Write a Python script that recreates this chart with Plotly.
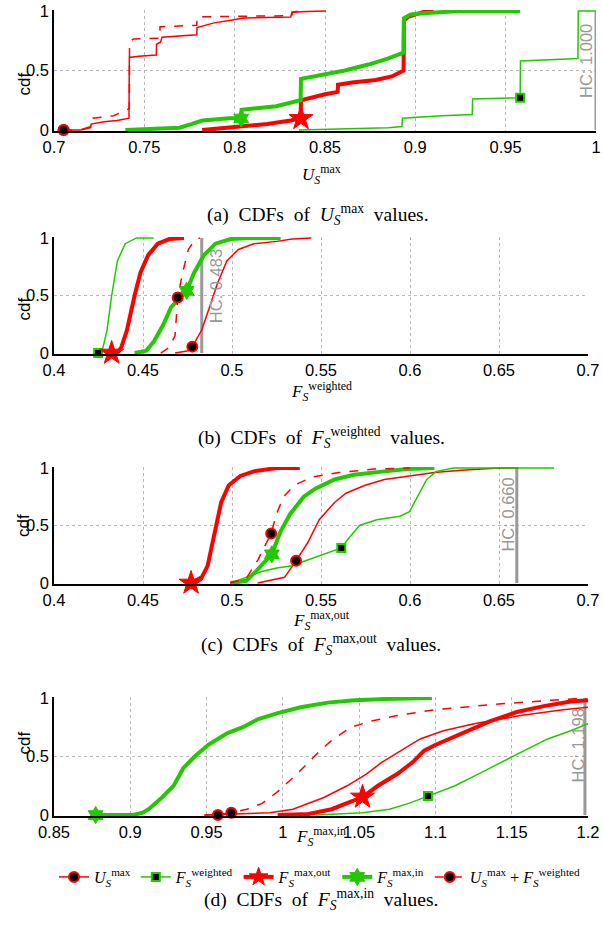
import plotly.graph_objects as go

RED = "#ff0000"
GREEN = "#22c800"
GRAY = "#999999"

# ---------------- Panel (a): U_S^max ----------------
a_umax_x = [0.7053, 0.715, 0.7203, 0.7205, 0.7277, 0.735, 0.7415, 0.7417, 0.747, 0.7566, 0.7568, 0.759, 0.7598, 0.770, 0.7790, 0.7792, 0.7886, 0.797, 0.805, 0.831, 0.8317, 0.840, 0.8505]
a_umax_y = [0.0, 0.0, 0.02, 0.05, 0.07, 0.08, 0.10, 0.61, 0.62, 0.63, 0.72, 0.74, 0.78, 0.79, 0.80, 0.86, 0.90, 0.92, 0.94, 0.95, 0.99, 0.995, 1.0]
a_uf_x = [0.7053, 0.714, 0.7203, 0.7215, 0.733, 0.7405, 0.7417, 0.7418, 0.744, 0.7585, 0.7587, 0.779, 0.7792, 0.80, 0.8317, 0.8319, 0.836]
a_uf_y = [0.0, 0.0, 0.03, 0.10, 0.12, 0.175, 0.18, 0.74, 0.765, 0.77, 0.867, 0.88, 0.95, 0.955, 0.96, 0.99, 1.0]
a_fout_x = [0.782, 0.790, 0.808, 0.818, 0.831, 0.8365, 0.8367, 0.844, 0.850, 0.857, 0.8572, 0.865, 0.878, 0.887, 0.8935, 0.8937, 0.896, 0.904, 0.91]
a_fout_y = [0.0, 0.01, 0.03, 0.05, 0.08, 0.10, 0.25, 0.28, 0.30, 0.32, 0.38, 0.40, 0.42, 0.45, 0.50, 0.92, 0.95, 0.99, 1.0]
a_fin_x = [0.7395, 0.760, 0.7694, 0.776, 0.782, 0.797, 0.8036, 0.8038, 0.823, 0.8365, 0.8367, 0.861, 0.874, 0.8847, 0.8935, 0.8937, 0.8975, 0.904, 0.9146, 0.925, 0.958]
a_fin_y = [0.0, 0.01, 0.02, 0.05, 0.08, 0.10, 0.10, 0.17, 0.20, 0.25, 0.43, 0.50, 0.55, 0.60, 0.65, 0.94, 0.97, 0.98, 0.99, 1.0, 1.0]
a_fw_x = [0.8356, 0.861, 0.885, 0.8926, 0.8928, 0.9146, 0.9315, 0.9317, 0.958, 0.9582, 0.990, 0.9902, 1.0]
a_fw_y = [0.0, 0.01, 0.02, 0.03, 0.10, 0.12, 0.13, 0.26, 0.272, 0.58, 0.60, 1.0, 1.0]
a_mark = {"umax": (0.7053, 0.0), "uf": (0.7053, 0.0), "fout": (0.8367, 0.097),
          "fin": (0.8036, 0.097), "fw": (0.958, 0.272)}
a_hc = 1.000

# ---------------- Panel (b): F_S^weighted ----------------
b_umax_x = [0.468, 0.4755, 0.4777, 0.483, 0.4874, 0.4917, 0.4971, 0.5036, 0.5122, 0.5252, 0.5338, 0.5446]
b_umax_y = [0.0, 0.02, 0.056, 0.2, 0.4, 0.6, 0.8, 0.9, 0.95, 0.97, 0.99, 1.0]
b_uf_x = [0.460, 0.4648, 0.468, 0.4695, 0.4723, 0.4755, 0.479, 0.482]
b_uf_y = [0.0, 0.05, 0.15, 0.48, 0.7, 0.9, 0.98, 1.0]
b_fout_x = [0.4324, 0.4356, 0.4378, 0.441, 0.4453, 0.4486, 0.4529, 0.4583, 0.4648, 0.473]
b_fout_y = [0.0, 0.0, 0.05, 0.2, 0.5, 0.7, 0.85, 0.95, 0.99, 1.0]
b_fin_x = [0.4453, 0.4518, 0.4561, 0.4615, 0.4658, 0.4745, 0.4788, 0.4842, 0.4907, 0.4993, 0.51, 0.5273]
b_fin_y = [0.0, 0.02, 0.1, 0.25, 0.4, 0.54, 0.7, 0.85, 0.95, 0.99, 1.0, 1.0]
b_fw_x = [0.4248, 0.427, 0.428, 0.4298, 0.4324, 0.4356, 0.44, 0.4464, 0.456]
b_fw_y = [0.0, 0.02, 0.08, 0.2, 0.5, 0.8, 0.95, 1.0, 1.0]
b_mark = {"umax": (0.4777, 0.056), "uf": (0.4695, 0.482), "fout": (0.4324, 0.0),
          "fin": (0.4745, 0.54), "fw": (0.4248, 0.0)}
b_hc = 0.483

# ---------------- Panel (c): F_S^max,out ----------------
c_umax_x = [0.5144, 0.5295, 0.536, 0.5425, 0.549, 0.5576, 0.564, 0.5748, 0.5856, 0.5986, 0.6137, 0.6288, 0.65, 0.661]
c_umax_y = [0.0, 0.05, 0.193, 0.35, 0.55, 0.7, 0.78, 0.85, 0.9, 0.93, 0.96, 0.98, 1.0, 1.0]
c_uf_x = [0.499, 0.508, 0.5145, 0.522, 0.525, 0.529, 0.535, 0.545, 0.56, 0.58, 0.60]
c_uf_y = [0.0, 0.04, 0.2, 0.431, 0.6, 0.75, 0.85, 0.92, 0.96, 0.99, 1.0]
c_fout_x = [0.477, 0.483, 0.4863, 0.4885, 0.4911, 0.4939, 0.4982, 0.5047, 0.5122, 0.5252, 0.5381]
c_fout_y = [0.0, 0.05, 0.15, 0.3, 0.5, 0.7, 0.85, 0.93, 0.97, 1.0, 1.0]
c_fin_x = [0.499, 0.508, 0.5133, 0.5224, 0.5273, 0.5327, 0.5403, 0.5468, 0.5576, 0.5684, 0.5856, 0.5986, 0.6137]
c_fin_y = [0.0, 0.02, 0.1, 0.25, 0.45, 0.6, 0.75, 0.82, 0.9, 0.94, 0.97, 0.99, 1.0]
c_fw_x = [0.4993, 0.508, 0.5166, 0.5252, 0.5338, 0.5425, 0.551, 0.5614, 0.5662, 0.5716, 0.5813, 0.5943, 0.5997, 0.604, 0.6094, 0.6148, 0.6245, 0.681]
c_fw_y = [0.0, 0.05, 0.1, 0.13, 0.15, 0.2, 0.25, 0.305, 0.4, 0.5, 0.55, 0.58, 0.62, 0.75, 0.9, 0.97, 1.0, 1.0]
c_mark = {"umax": (0.536, 0.193), "uf": (0.522, 0.431), "fout": (0.477, 0.0),
          "fin": (0.5224, 0.25), "fw": (0.5614, 0.305)}
c_hc = 0.660

# ---------------- Panel (d): F_S^max,in ----------------
d_umax_x = [0.9486, 0.9574, 0.9915, 1.0066, 1.0168, 1.0269, 1.0421, 1.0547, 1.0648, 1.0774, 1.09, 1.1052, 1.1254, 1.1558, 1.1836, 1.2]
d_umax_y = [0.0, 0.005, 0.02, 0.05, 0.1, 0.15, 0.25, 0.35, 0.45, 0.55, 0.65, 0.72, 0.78, 0.85, 0.9, 0.92]
d_uf_x = [0.9486, 0.9574, 0.9662, 0.9764, 0.9865, 0.9966, 1.0092, 1.0168, 1.0244, 1.0332, 1.0446, 1.0573, 1.0749, 1.1002, 1.1432, 1.176, 1.1988]
d_uf_y = [0.0, 0.005, 0.02, 0.05, 0.1, 0.2, 0.35, 0.45, 0.55, 0.65, 0.75, 0.8, 0.85, 0.9, 0.95, 0.98, 1.0]
d_fout_x = [0.9966, 1.0168, 1.032, 1.0522, 1.0623, 1.0749, 1.085, 1.0926, 1.1002, 1.1179, 1.1356, 1.1533, 1.171, 1.1887, 1.2]
d_fout_y = [0.0, 0.01, 0.05, 0.154, 0.25, 0.35, 0.45, 0.55, 0.6, 0.7, 0.8, 0.88, 0.93, 0.97, 0.98]
d_fin_x = [0.8773, 0.9018, 0.9081, 0.912, 0.9208, 0.9284, 0.9347, 0.9422, 0.9511, 0.9637, 0.9738, 0.9839, 0.9966, 1.0117, 1.0294, 1.0471, 1.0673, 1.0977]
d_fin_y = [0.0, 0.0, 0.02, 0.05, 0.15, 0.25, 0.4, 0.5, 0.6, 0.7, 0.75, 0.82, 0.87, 0.92, 0.96, 0.98, 0.99, 1.0]
d_fw_x = [1.0218, 1.0522, 1.0699, 1.0825, 1.0951, 1.1128, 1.128, 1.1432, 1.1583, 1.1735, 1.1887, 1.2]
d_fw_y = [0.0, 0.02, 0.05, 0.1, 0.162, 0.25, 0.35, 0.45, 0.55, 0.65, 0.72, 0.78]
d_mark = {"umax": (0.9574, 0.0), "uf": (0.9662, 0.02), "fout": (1.0522, 0.154),
          "fin": (0.8773, 0.0), "fw": (1.0951, 0.162)}
d_hc = 1.198

# Tick values and ranges
a_xticks = [0.7, 0.75, 0.8, 0.85, 0.9, 0.95, 1.0]
bc_xticks = [0.4, 0.45, 0.5, 0.55, 0.6, 0.65, 0.7]
d_xticks = [0.85, 0.9, 0.95, 1.0, 1.05, 1.1, 1.15, 1.2]
y_ticks = [0, 0.5, 1]

S = "<i>S</i>"
LBL_U = "<i>U</i><sub>" + S + "</sub><sup>max</sup>"
LBL_FW = "<i>F</i><sub>" + S + "</sub><sup>weighted</sup>"
LBL_FOUT = "<i>F</i><sub>" + S + "</sub><sup>max,out</sup>"
LBL_FIN = "<i>F</i><sub>" + S + "</sub><sup>max,in</sup>"
LBL_UF = LBL_U + " + " + LBL_FW

SERIES = {
    "umax": dict(color=RED, width=1.5, dash="solid", symbol="circle", msize=10,
                 mfill="black", mline=RED, mlw=2, name=LBL_U),
    "fw": dict(color=GREEN, width=1.5, dash="solid", symbol="square", msize=8,
               mfill="black", mline=GREEN, mlw=2, name=LBL_FW),
    "fout": dict(color=RED, width=4, dash="solid", symbol="star", msize=18,
                 mfill=RED, mline=RED, mlw=1, name=LBL_FOUT),
    "fin": dict(color=GREEN, width=4, dash="solid", symbol="hexagram", msize=13,
                mfill=GREEN, mline=GREEN, mlw=1, name=LBL_FIN),
    "uf": dict(color=RED, width=1.5, dash="dash", symbol="circle", msize=10,
               mfill="black", mline=RED, mlw=2, name=LBL_UF),
}
ORDER = ["umax", "fw", "fout", "fin", "uf"]

panels = [
    ("x", "y", {"umax": (a_umax_x, a_umax_y), "fw": (a_fw_x, a_fw_y), "fout": (a_fout_x, a_fout_y),
                "fin": (a_fin_x, a_fin_y), "uf": (a_uf_x, a_uf_y)}, a_mark, a_hc),
    ("x2", "y2", {"umax": (b_umax_x, b_umax_y), "fw": (b_fw_x, b_fw_y), "fout": (b_fout_x, b_fout_y),
                  "fin": (b_fin_x, b_fin_y), "uf": (b_uf_x, b_uf_y)}, b_mark, b_hc),
    ("x3", "y3", {"umax": (c_umax_x, c_umax_y), "fw": (c_fw_x, c_fw_y), "fout": (c_fout_x, c_fout_y),
                  "fin": (c_fin_x, c_fin_y), "uf": (c_uf_x, c_uf_y)}, c_mark, c_hc),
    ("x4", "y4", {"umax": (d_umax_x, d_umax_y), "fw": (d_fw_x, d_fw_y), "fout": (d_fout_x, d_fout_y),
                  "fin": (d_fin_x, d_fin_y), "uf": (d_uf_x, d_uf_y)}, d_mark, d_hc),
]

fig = go.Figure()
for xa, ya, curves, marks, hc in panels:
    fig.add_trace(go.Scatter(x=[hc, hc], y=[0, 1], mode="lines", xaxis=xa, yaxis=ya,
                             line=dict(color=GRAY, width=3), showlegend=False, hoverinfo="skip"))
    for key in ORDER:
        st = SERIES[key]
        cx, cy = curves[key]
        fig.add_trace(go.Scatter(x=cx, y=cy, mode="lines", xaxis=xa, yaxis=ya,
                                 line=dict(color=st["color"], width=st["width"], dash=st["dash"]),
                                 showlegend=False, hoverinfo="skip"))
    for key in ORDER:
        st = SERIES[key]
        mx, my = marks[key]
        fig.add_trace(go.Scatter(x=[mx], y=[my], mode="markers", xaxis=xa, yaxis=ya, cliponaxis=False,
                                 marker=dict(symbol=st["symbol"], size=st["msize"], color=st["mfill"],
                                             line=dict(color=st["mline"], width=st["mlw"])),
                                 showlegend=False, hoverinfo="skip"))

for key in ORDER:
    st = SERIES[key]
    fig.add_trace(go.Scatter(x=[None], y=[None], mode="lines+markers", xaxis="x4", yaxis="y4",
                             name=st["name"],
                             line=dict(color=st["color"], width=st["width"], dash=st["dash"]),
                             marker=dict(symbol=st["symbol"], size=min(st["msize"], 14), color=st["mfill"],
                                         line=dict(color=st["mline"], width=st["mlw"]))))

W, H = 603, 931


def px(X):
    return X / W


def py(Y):
    return 1 - Y / H


def ydom(top, bottom):
    return [py(bottom), py(top)]


axis_common = dict(showline=True, linecolor="black", linewidth=1.5, mirror=False,
                   showgrid=True, gridcolor="#b8b8b8", griddash="dot", gridwidth=1,
                   zeroline=False, ticks="", automargin=False,
                   tickfont=dict(family="Liberation Sans", size=16.5, color="black"))

layout_axes = {}
specs = [
    ("xaxis", "yaxis", "y", "x", [px(54), px(596)], ydom(10, 131), [0.7, 1.0], a_xticks),
    ("xaxis2", "yaxis2", "y2", "x2", [px(54), px(588)], ydom(237, 354), [0.4, 0.7], bc_xticks),
    ("xaxis3", "yaxis3", "y3", "x3", [px(54), px(588)], ydom(467, 584), [0.4, 0.7], bc_xticks),
    ("xaxis4", "yaxis4", "y4", "x4", [px(54), px(588)], ydom(697, 816), [0.85, 1.2], d_xticks),
]
for xk, yk, yanchor, xanchor, xd, yd, xr, xt in specs:
    layout_axes[xk] = dict(axis_common, domain=xd, anchor=yanchor, range=xr, tickvals=xt)
    layout_axes[yk] = dict(axis_common, domain=yd, anchor=xanchor, range=[-0.008, 1.008], tickvals=y_ticks)

ann = []
SERIF = "Liberation Serif"
SANS = "Liberation Sans"


def pa(text, X, Y, size, family, **kw):
    ann.append(dict(text=text, x=px(X), y=py(Y), xref="paper", yref="paper", showarrow=False,
                    font=dict(family=family, size=size, color="black"), **kw))


for top, bottom in [(10, 131), (237, 354), (467, 584), (697, 816)]:
    pa("cdf", 12, (top + bottom) / 2, 17, SANS, textangle=-90)

pa(LBL_U, 321, 160, 17, SERIF)
pa(LBL_FW, 321, 391, 17, SERIF)
pa(LBL_FOUT, 321, 620, 17, SERIF)
pa(LBL_FIN, 321, 851, 17, SERIF)

SP = "&nbsp; "


def caption(tag, lbl):
    return tag + SP + "CDFs" + SP + "of" + SP + lbl + SP + "values."


pa(caption("(a)", LBL_U), 318, 199, 19.5, SERIF)
pa(caption("(b)", LBL_FW), 321, 437, 19.5, SERIF)
pa(caption("(c)", LBL_FOUT), 321, 660, 19.5, SERIF)
pa(caption("(d)", LBL_FIN), 321, 915, 19.5, SERIF)

hc_labels = [("x", "y", 0.9945, 0.58, "HC: 1.000"), ("x2", "y2", 0.4907, 0.585, "HC: 0.483"),
             ("x3", "y3", 0.655, 0.594, "HC: 0.660"), ("x4", "y4", 1.1935, 0.595, "HC: 1.198")]
for xa, ya, hx, hy, t in hc_labels:
    ann.append(dict(text=t, x=hx, y=hy, xref=xa, yref=ya, showarrow=False, textangle=-90,
                    font=dict(family=SANS, size=16.5, color=GRAY)))

fig.update_layout(
    template="none",
    width=W, height=H, autosize=False,
    margin=dict(l=0, r=0, t=0, b=0, pad=0, autoexpand=False),
    paper_bgcolor="white", plot_bgcolor="white",
    annotations=ann,
    legend=dict(orientation="h", x=px(320), xanchor="center", y=py(877), yanchor="middle",
                font=dict(family=SERIF, size=16, color="black"), itemwidth=30,
                bgcolor="rgba(0,0,0,0)", tracegroupgap=0),
    showlegend=True,
    **layout_axes,
)

# remove the browser's default 8px body margin so the figure fills the window exactly
fig.write_html("out.html", config={"displayModeBar": False},
               post_script="document.body.style.margin='0px';")
